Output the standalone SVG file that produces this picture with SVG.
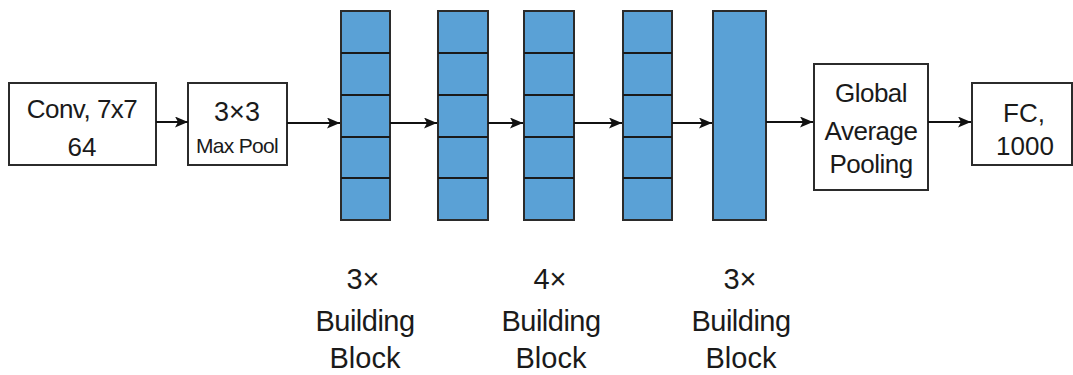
<svg xmlns="http://www.w3.org/2000/svg" width="1073" height="375" viewBox="0 0 1073 375">
  <style>
    .box { fill: #ffffff; stroke: #2b2b2b; stroke-width: 2; }
    .blk { fill: #5aa1d6; stroke: #2b2b2b; stroke-width: 2; }
    .div { stroke: #1a1a1a; stroke-width: 2; }
    .lbl { font-family: "Liberation Sans", Arial, sans-serif; fill: #1a1a1a; text-anchor: middle; }
    .edge { stroke: #111111; stroke-width: 2; fill: none; marker-end: url(#arrow); }
  </style>
  <defs>
    <marker id="arrow" viewBox="0 0 13 11" refX="13" refY="5.5" markerWidth="13" markerHeight="11" markerUnits="userSpaceOnUse" orient="auto">
      <path d="M0,0 L13,5.5 L0,11 L3,5.5 Z" fill="#111111"/>
    </marker>
  </defs>
  <rect width="1073" height="375" fill="#ffffff"/>

  <g id="conv">
    <rect class="box" x="9" y="83" width="147" height="82"/>
    <text class="lbl" x="82" y="118" font-size="26" letter-spacing="-0.5">Conv, 7x7</text>
    <text class="lbl" x="82" y="156" font-size="26">64</text>
  </g>

  <g id="maxpool">
    <rect class="box" x="188" y="83" width="99" height="82"/>
    <text class="lbl" x="237" y="121" font-size="27">3×3</text>
    <text class="lbl" x="237" y="153" font-size="21" letter-spacing="-0.7">Max Pool</text>
  </g>

  <g id="stage1">
    <rect class="blk" x="341" y="11" width="49" height="209"/>
    <line class="div" x1="341" y1="53" x2="390" y2="53"/>
    <line class="div" x1="341" y1="95" x2="390" y2="95"/>
    <line class="div" x1="341" y1="137" x2="390" y2="137"/>
    <line class="div" x1="341" y1="178" x2="390" y2="178"/>
  </g>

  <g id="stage2">
    <rect class="blk" x="438" y="11" width="50" height="209"/>
    <line class="div" x1="438" y1="53" x2="488" y2="53"/>
    <line class="div" x1="438" y1="95" x2="488" y2="95"/>
    <line class="div" x1="438" y1="137" x2="488" y2="137"/>
    <line class="div" x1="438" y1="178" x2="488" y2="178"/>
  </g>

  <g id="stage3">
    <rect class="blk" x="524" y="11" width="50" height="209"/>
    <line class="div" x1="524" y1="53" x2="574" y2="53"/>
    <line class="div" x1="524" y1="95" x2="574" y2="95"/>
    <line class="div" x1="524" y1="137" x2="574" y2="137"/>
    <line class="div" x1="524" y1="178" x2="574" y2="178"/>
  </g>

  <g id="stage4">
    <rect class="blk" x="623" y="11" width="49" height="209"/>
    <line class="div" x1="623" y1="53" x2="672" y2="53"/>
    <line class="div" x1="623" y1="95" x2="672" y2="95"/>
    <line class="div" x1="623" y1="137" x2="672" y2="137"/>
    <line class="div" x1="623" y1="178" x2="672" y2="178"/>
  </g>

  <g id="stage5">
    <rect class="blk" x="713" y="11" width="53" height="209"/>
  </g>

  <g id="gap">
    <rect class="box" x="814" y="64" width="114" height="126"/>
    <text class="lbl" x="871" y="102" font-size="26" letter-spacing="-0.5">Global</text>
    <text class="lbl" x="871" y="140" font-size="26" letter-spacing="-0.5">Average</text>
    <text class="lbl" x="871" y="173" font-size="26" letter-spacing="-0.5">Pooling</text>
  </g>

  <g id="fc">
    <rect class="box" x="972" y="83" width="100" height="82"/>
    <text class="lbl" x="1024" y="122" font-size="26">FC,</text>
    <text class="lbl" x="1025" y="155" font-size="26">1000</text>
  </g>

  <g id="stage-labels">
    <text class="lbl" x="363" y="289" font-size="29">3×</text>
    <text class="lbl" x="365" y="331" font-size="29" letter-spacing="-0.5">Building</text>
    <text class="lbl" x="365" y="368" font-size="29">Block</text>
    <text class="lbl" x="550" y="289" font-size="29">4×</text>
    <text class="lbl" x="551" y="331" font-size="29" letter-spacing="-0.5">Building</text>
    <text class="lbl" x="551" y="368" font-size="29">Block</text>
    <text class="lbl" x="740" y="289" font-size="29">3×</text>
    <text class="lbl" x="741" y="331" font-size="29" letter-spacing="-0.5">Building</text>
    <text class="lbl" x="741" y="368" font-size="29">Block</text>
  </g>

  <g id="connectors">
    <line class="edge" x1="156" y1="122" x2="188" y2="122"/>
    <line class="edge" x1="287" y1="123" x2="340" y2="123"/>
    <line class="edge" x1="390" y1="123" x2="437" y2="123"/>
    <line class="edge" x1="488" y1="123" x2="523" y2="123"/>
    <line class="edge" x1="574" y1="123" x2="622" y2="123"/>
    <line class="edge" x1="672" y1="123" x2="712" y2="123"/>
    <line class="edge" x1="766" y1="122" x2="813" y2="122"/>
    <line class="edge" x1="928" y1="122" x2="971" y2="122"/>
  </g>
</svg>
